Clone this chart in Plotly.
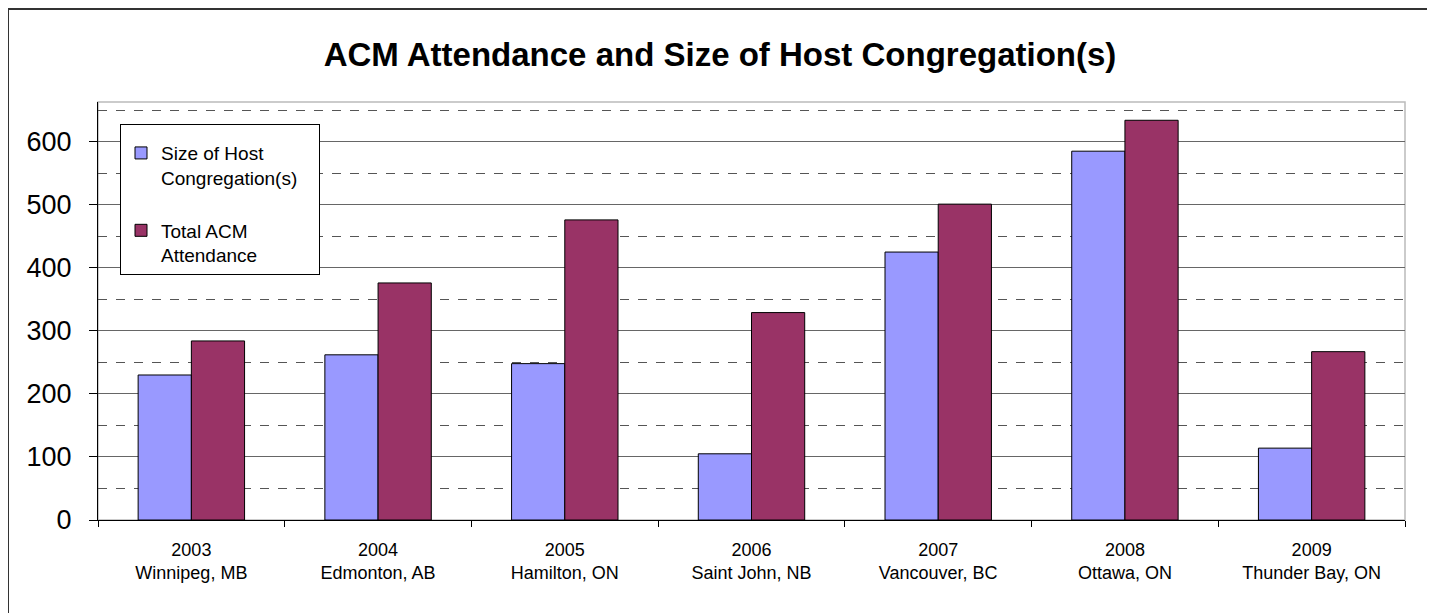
import plotly.graph_objects as go

years = ["2003", "2004", "2005", "2006", "2007", "2008", "2009"]
cities = ["Winnipeg, MB", "Edmonton, AB", "Hamilton, ON", "Saint John, NB",
          "Vancouver, BC", "Ottawa, ON", "Thunder Bay, ON"]
host_size = [230, 262, 248, 105, 425, 585, 114]
total_attendance = [284, 376, 476, 329, 501, 634, 267]

categories = [f"{y}<br>{c}" for y, c in zip(years, cities)]

W, H = 1435, 613
OFF = 8  # page body margin
# plot area in screenshot pixels
SL, ST, SR, SB = 98, 102, 1405, 520.5
L, T = SL - OFF, ST - OFF
R, B = W - (SR - OFF), H - (SB - OFF)
pw, ph = W - L - R, H - T - B

def px_x(p):
    return (p - SL) / pw

def px_y(p):
    return (SB - p) / ph

NB = "\u00a0"

fig = go.Figure()
fig.add_trace(go.Bar(
    x=categories, y=host_size, name="Size of Host<br>Congregation(s)" + NB * 3,
    marker=dict(color="#9999FF", line=dict(color="#000000", width=1)),
    legendgroup="a",
))
fig.add_trace(go.Bar(
    x=categories, y=total_attendance, name="Total ACM<br>Attendance",
    marker=dict(color="#993366", line=dict(color="#000000", width=1)),
    legendgroup="b",
))

fig.update_layout(
    width=W, height=H,
    margin=dict(l=L, r=R, t=T, b=B),
    paper_bgcolor="white", plot_bgcolor="white",
    font=dict(family="Liberation Sans, Arial, sans-serif", color="#000000"),
    title=dict(text="<b>ACM Attendance and Size of Host Congregation(s)</b>",
               x=px_x(720), xanchor="center", xref="paper",
               y=1 - (54 - OFF) / H, yanchor="middle",
               font=dict(size=33, color="#000000")),
    barmode="group", bargap=0.43, bargroupgap=0,
    showlegend=True,
    legend=dict(x=px_x(120), y=px_y(124), xanchor="left", yanchor="top",
                bgcolor="white", bordercolor="#000000", borderwidth=1,
                font=dict(size=19), tracegroupgap=25, valign="top",
                itemwidth=30, traceorder="grouped",
                title=dict(text=NB, font=dict(size=7))),
    xaxis=dict(showline=True, linecolor="#000000", linewidth=1,
               ticks="outside", ticklen=6, tickcolor="#000000",
               tickson="boundaries", tickfont=dict(size=18),
               ticklabelstandoff=13,
               showgrid=False, range=[-0.5, 6.5]),
    yaxis=dict(range=[0, 663], dtick=100, tick0=0,
               showline=True, linecolor="#000000", linewidth=1,
               ticks="outside", ticklen=8, tickcolor="#000000",
               tickfont=dict(size=27), ticklabelstandoff=12,
               showgrid=True, gridcolor="#666666",
               gridwidth=1, zeroline=False,
               minor=dict(dtick=50, showgrid=True, gridcolor="#555555",
                          griddash="dash", gridwidth=1, ticks="")),
    shapes=[
        dict(type="rect", xref="paper", yref="paper", x0=0, x1=1, y0=0, y1=1,
             line=dict(color="#BBBBBB", width=1.5), layer="below"),
        dict(type="rect", xref="paper", yref="paper",
             x0=px_x(8), x1=px_x(1431), y0=px_y(640), y1=px_y(9),
             line=dict(color="#333333", width=2)),
    ],
)

fig.write_html("out.html")
